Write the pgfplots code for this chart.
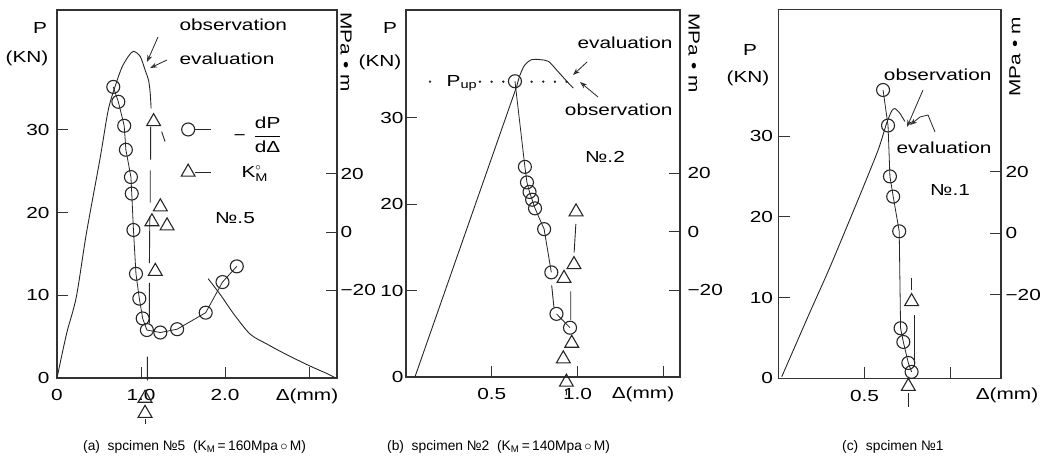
\documentclass[border=0pt]{standalone}
\usepackage{amsmath}
\usepackage{fontspec}
\setmainfont{Liberation Sans}[FakeStretch=1.3]
\newfontfamily\capfam{Liberation Sans}
\usepackage{pgfplots}
\pgfplotsset{compat=1.18}
\usetikzlibrary{arrows.meta}

\newcommand\ff{\fontsize{16}{19}\selectfont}
\newcommand\capf{\capfam\fontsize{13.8}{15}\selectfont}

\pgfplotsset{
  panel/.style={anchor=south west, scale only axis, clip=false,
    tick align=inside, major tick length=11pt,
    axis line style={line width=1.1pt, black!80},
    every tick/.style={line width=1pt, black!80},
    tick label style={font=\ff},
    xticklabel style={yshift=-8pt},
    xtick pos=bottom, ytick pos=left},
  kaxis/.style={anchor=south west, scale only axis, xmin=0, xmax=1,
    axis x line=none, axis y line*=right,
    tick align=inside, major tick length=11pt,
    ytick={-20,0,20}, yticklabels={−20,0,20},
    axis line style={line width=1.1pt, black!80},
    every tick/.style={line width=1pt, black!80},
    tick label style={font=\ff}},
  pd/.style={black!85, line width=0.9pt},
  dpd/.style={black!85, line width=0.8pt, mark=o, mark size=6.5pt,
    mark options={solid, fill=white, line width=1.1pt}},
  km/.style={black!85, only marks, mark=triangle, mark size=8pt,
    mark options={fill=white, line width=1.1pt}},
  seg/.style={black!85, line width=0.9pt, unbounded coords=jump, forget plot},
}

\begin{document}
\begin{tikzpicture}[font=\ff]
\useasboundingbox (0,0) rectangle (1041pt,-468pt);

% ---------------- (a) specimen No.5
\begin{axis}[panel, at={(57pt,-378pt)}, width=280pt, height=368pt,
  xmin=0, xmax=3.333, ymin=0, ymax=44.5,
  xtick={0,1,2,3}, xticklabels={0,1.0,2.0,{}},
  ytick={0,10,20,30}, yticklabels={0,10,20,30},
  yticklabel style={xshift=-4pt},
  legend style={draw=none, fill=none, at={(axis description cs:0.443,0.715)},
    anchor=north west, inner sep=0pt, row sep=20pt, font=\ff,
    /tikz/every odd column/.append style={column sep=20pt}},
  legend cell align=left,
  legend image code/.code={\draw[black!85, line width=1.3pt] (0.25cm,0cm) -- (0.8cm,0cm);
    \draw[#1] plot coordinates {(0cm,0cm)};},
]
% load-displacement curve
\addplot[pd, smooth, tension=0.5, forget plot] coordinates {
  (0,0) (0.115,5.4) (0.23,9.8) (0.35,17.5) (0.51,26.4) (0.61,32.4)
  (0.69,35.2) (0.77,37.5) (0.85,38.9) (0.91,39.5) (0.99,38.9) (1.05,37.2)
  (1.09,36.0) (1.11,34.4) (1.12,32.6)};
\addplot[pd, smooth, tension=0.5, forget plot] coordinates {
  (1.80,12.0) (1.95,10.0) (2.10,7.8) (2.30,5.3) (2.50,4.1) (2.70,3.0)
  (3.00,1.5) (3.20,0.6) (3.30,0.1)};
% vertical marker line
\addplot[seg] coordinates {
  (1.115,30.4) (1.115,26.4) (1.11,nan) (1.11,25.1) (1.11,21.2) (1.11,nan)
  (1.105,19.5) (1.10,13.9) (1.10,nan) (1.10,11.5) (1.10,6.6) (1.10,nan)
  (1.075,2.6) (1.075,-0.3) (1.2,nan) (1.246,29.8) (1.286,28.6)};
\addplot[dpd] coordinates {
  (0.67,35.2) (0.73,33.4) (0.80,30.5) (0.82,27.6) (0.88,24.3) (0.89,22.3)
  (0.91,17.9) (0.94,12.6) (0.98,9.6) (1.02,7.2) (1.07,5.8) (1.23,5.5)
  (1.43,5.9) (1.77,7.9) (1.97,11.6) (2.14,13.5)};
\addlegendentry{−\hspace{0.5em}$\dfrac{\text{dP}}{\text{dΔ}}$}
\addplot[km] coordinates {
  (1.15,31.0) (1.23,20.7) (1.13,18.9) (1.31,18.4) (1.17,12.9)};
\addlegendentry{\hspace{8pt}K$^{\circ}_{\text{M}}$}
\addplot[km, forget plot] coordinates {(1.048,-2.45) (1.048,-4.27)};
\addplot[seg] coordinates {(1.048,-4.9) (1.048,-5.6)};
\end{axis}
\begin{axis}[kaxis, at={(57pt,-378pt)}, width=280pt, height=368pt,
  ymin=-50.1, ymax=76.2]
\end{axis}

% ---------------- (b) specimen No.2
\begin{axis}[panel, at={(406pt,-377pt)}, width=274pt, height=367pt,
  xmin=0, xmax=1.597, ymin=0, ymax=42.44,
  xtick={0.5,1.0,1.5}, xticklabels={0.5,1.0,{}},
  ytick={0,10,20,30}, yticklabels={0,10,20,30},
  yticklabel style={xshift=1pt}]
\addplot[pd, forget plot] coordinates {(0.052,0) (0.645,33.6)};
\addplot[pd, smooth, tension=0.5, forget plot] coordinates {
  (0.645,33.6) (0.664,34.9) (0.693,36.1) (0.733,36.7) (0.78,36.7)
  (0.83,36.5) (0.878,35.5) (0.937,34.2) (0.975,33.4)};
% P_up level
\addplot[black!85, only marks, mark=*, mark size=1pt, forget plot] coordinates {
  (0.14,34.15) (0.431,34.15) (0.499,34.15) (0.567,34.15) (0.732,34.15)
  (0.80,34.15) (0.868,34.15) (0.936,34.15)};
\addplot[dpd] coordinates {
  (0.635,34.2) (0.693,24.3) (0.705,22.5) (0.72,21.4) (0.735,20.5)
  (0.752,19.5) (0.805,17.1) (0.847,12.1)};
\addplot[dpd] coordinates {(0.877,7.3) (0.956,5.7)};
\addplot[seg] coordinates {
  (0.849,10.6) (0.862,8.1) (0.9,nan) (0.99,17.7) (0.98,14.4) (0.97,nan)
  (0.96,9.9) (0.96,6.6) (0.94,nan) (0.935,-1.4) (0.935,-2.1)};
\addplot[km] coordinates {
  (0.991,19.1) (0.979,13.0) (0.921,11.4) (0.966,3.9) (0.917,2.1) (0.935,-0.6)};
\end{axis}
\begin{axis}[kaxis, at={(406pt,-377pt)}, width=274pt, height=367pt,
  ymin=-49.8, ymax=76.0, yticklabel style={xshift=4pt}]
\end{axis}

% ---------------- (c) specimen No.1
\begin{axis}[panel, at={(778.5pt,-378.3pt)}, width=222.5pt, height=369pt,
  xmin=0, xmax=1.294, ymin=0, ymax=45.69,
  xtick={0.5,1.0}, xticklabels={0.5,{}},
  ytick={0,10,20,30}, yticklabels={0,10,20,30},
  yticklabel style={xshift=-2pt}]
\addplot[pd, smooth, tension=0.4, forget plot] coordinates {
  (0.019,0.2) (0.183,8.2) (0.30,13.8) (0.474,22.7) (0.58,28.3)
  (0.629,31.6) (0.658,33.1) (0.677,33.4) (0.706,32.8) (0.735,31.8)};
\addplot[dpd] coordinates {
  (0.608,35.7) (0.637,31.3) (0.648,25.0) (0.667,22.5) (0.702,18.2)
  (0.710,6.2) (0.726,4.5) (0.755,1.9) (0.774,0.8)};
\addplot[seg] coordinates {
  (0.774,12.4) (0.774,10.9) (0.78,nan) (0.788,7.8) (0.788,1.4) (0.77,nan)
  (0.755,-1.8) (0.755,-3.5)};
\addplot[km] coordinates {(0.774,9.5) (0.755,-1.0)};
\end{axis}
\begin{axis}[kaxis, at={(778.5pt,-378.3pt)}, width=222.5pt, height=369pt,
  ymin=-47.03, ymax=72.66, yticklabel style={xshift=1pt}]
\end{axis}

% ---------------- labels and annotations
% (a)
\node at (40pt,-28pt) {P};
\node at (27pt,-58pt) {(KN)};
\node[rotate=-90] at (346pt,-52pt) {MPa • m};
\node[anchor=west] at (176pt,-25pt) {observation};
\node[anchor=west] at (176pt,-59pt) {evaluation};
\draw[black!85, line width=0.8pt, -{Stealth[length=7pt,width=5pt,open]}] (158pt,-37pt) -- (147pt,-62pt);
\draw[black!85, line width=0.8pt, -{Stealth[length=7pt,width=5pt,open]}] (167pt,-60pt) -- (150pt,-68pt);
\node at (235pt,-218pt) {№.5};
\node at (307pt,-396pt) {Δ(mm)};
% (b)
\node at (390pt,-28pt) {P};
\node at (380pt,-62pt) {(KN)};
\node[rotate=-90] at (694pt,-53pt) {MPa • m};
\node[anchor=east] at (676pt,-43pt) {evaluation};
\node[anchor=east] at (676pt,-110pt) {observation};
\draw[black!85, line width=0.8pt, -{Stealth[length=7pt,width=5pt,open]}] (587pt,-62pt) -- (573pt,-75pt);
\draw[black!85, line width=0.8pt, -{Stealth[length=7pt,width=5pt,open]}] (598pt,-97pt) -- (580pt,-82pt);
\node at (462pt,-83pt) {P$_{\text{up}}$};
\node at (605pt,-157pt) {№.2};
\node at (643pt,-394pt) {Δ(mm)};
% (c)
\node at (750pt,-50pt) {P};
\node at (748pt,-78pt) {(KN)};
\node[rotate=90] at (1015pt,-57pt) {MPa • m};
\node[anchor=east] at (995pt,-75pt) {observation};
\node[anchor=east] at (995pt,-148pt) {evaluation};
\draw[black!85, line width=0.8pt, -{Stealth[length=7pt,width=5pt,open]}] (923pt,-90pt) -- (907pt,-127pt);
\draw[black!85, line width=0.8pt, -{Stealth[length=7pt,width=5pt,open]}] (935pt,-132pt) -- (928pt,-115pt) -- (920pt,-117pt) -- (910pt,-125pt);
\node at (950pt,-190pt) {№.1};
\node at (1007pt,-395pt) {Δ(mm)};

% captions
\node[anchor=west, inner sep=0pt, font=\capf] at (83pt,-447pt) {(a)\ \ spcimen №5\ \ (K$_{\text{M}}$\,=\,160Mpa\,$\circ$\,M)};
\node[anchor=west, inner sep=0pt, font=\capf] at (387pt,-447pt) {(b)\ \ spcimen №2\ \ (K$_{\text{M}}$\,=\,140Mpa\,$\circ$\,M)};
\node[anchor=west, inner sep=0pt, font=\capf] at (842pt,-447pt) {(c)\ \ spcimen №1};
\end{tikzpicture}
\end{document}
